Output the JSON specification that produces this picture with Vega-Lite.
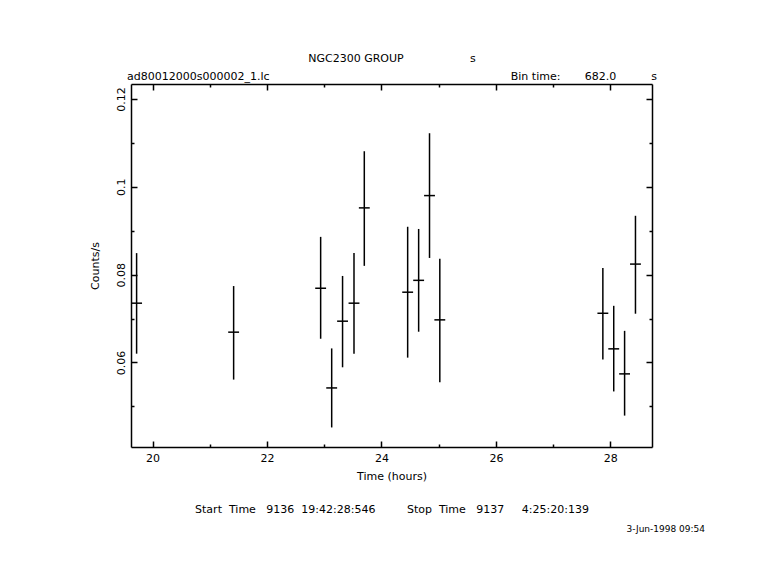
{
  "$schema": "https://vega.github.io/schema/vega-lite/v6.json",
  "width": 521,
  "height": 363,
  "autosize": {"type": "none"},
  "padding": {"left": 131, "top": 84, "right": 129, "bottom": 133},
  "background": "white",
  "config": {
    "view": {"stroke": null},
    "font": "DejaVu Sans",
    "axis": {
      "grid": false,
      "domainColor": "black",
      "domainWidth": 1.5,
      "tickColor": "black",
      "tickWidth": 1.5,
      "labelColor": "black",
      "labelFontSize": 11,
      "labelFont": "DejaVu Sans",
      "titleColor": "black",
      "titleFont": "DejaVu Sans",
      "titleFontSize": 11,
      "titleFontWeight": "normal",
      "labelFlush": false,
      "labelOverlap": false
    }
  },
  "title": {
    "text": "3-Jun-1998 09:54",
    "orient": "bottom",
    "anchor": "end",
    "frame": "group",
    "fontSize": 9,
    "fontWeight": "normal",
    "font": "DejaVu Sans",
    "color": "black",
    "offset": 11,
    "dx": 53
  },
  "data": {
    "values": [
      {"t": 19.72, "tlo": 19.625, "thi": 19.815, "rate": 0.0735, "lo": 0.0620, "hi": 0.0849},
      {"t": 21.416, "tlo": 21.321, "thi": 21.511, "rate": 0.0669, "lo": 0.0561, "hi": 0.0774},
      {"t": 22.937, "tlo": 22.842, "thi": 23.032, "rate": 0.0769, "lo": 0.0654, "hi": 0.0886},
      {"t": 23.13, "tlo": 23.035, "thi": 23.225, "rate": 0.0542, "lo": 0.0452, "hi": 0.0632},
      {"t": 23.32, "tlo": 23.225, "thi": 23.415, "rate": 0.0694, "lo": 0.0589, "hi": 0.0797},
      {"t": 23.52, "tlo": 23.425, "thi": 23.615, "rate": 0.0735, "lo": 0.0620, "hi": 0.0849},
      {"t": 23.70, "tlo": 23.605, "thi": 23.795, "rate": 0.0952, "lo": 0.0820, "hi": 0.1081},
      {"t": 24.458, "tlo": 24.363, "thi": 24.553, "rate": 0.0760, "lo": 0.0611, "hi": 0.0909},
      {"t": 24.65, "tlo": 24.555, "thi": 24.745, "rate": 0.0787, "lo": 0.0670, "hi": 0.0904},
      {"t": 24.84, "tlo": 24.745, "thi": 24.935, "rate": 0.0980, "lo": 0.0838, "hi": 0.1122},
      {"t": 25.02, "tlo": 24.925, "thi": 25.115, "rate": 0.0697, "lo": 0.0555, "hi": 0.0836},
      {"t": 27.87, "tlo": 27.775, "thi": 27.965, "rate": 0.0712, "lo": 0.0607, "hi": 0.0815},
      {"t": 28.06, "tlo": 27.965, "thi": 28.155, "rate": 0.0631, "lo": 0.0534, "hi": 0.0729},
      {"t": 28.25, "tlo": 28.155, "thi": 28.345, "rate": 0.0574, "lo": 0.0479, "hi": 0.0672},
      {"t": 28.44, "tlo": 28.345, "thi": 28.535, "rate": 0.0824, "lo": 0.0711, "hi": 0.0934}
    ]
  },
  "layer": [
    {
      "mark": {"type": "rule", "color": "black", "strokeWidth": 1.5},
      "encoding": {
        "x": {
          "field": "t",
          "type": "quantitative",
          "scale": {"domain": [19.622, 28.729], "nice": false, "zero": false},
          "axis": {
            "orient": "bottom",
            "values": [20, 21, 22, 23, 24, 25, 26, 27, 28],
            "format": "~g",
            "labelExpr": "datum.value % 2 === 0 ? datum.label : ''",
            "tickSize": {"condition": {"test": "datum.value % 2 === 0", "value": -6}, "value": -3},
            "labelPadding": 20,
            "labelBaseline": "alphabetic",
            "labelAlign": "center",
            "title": ["Time (hours)", "Start\u00a0\u00a0Time\u00a0\u00a0\u00a09136\u00a0\u00a019:42:28:546\u00a0\u00a0\u00a0\u00a0\u00a0\u00a0\u00a0\u00a0\u00a0Stop\u00a0\u00a0Time\u00a0\u00a0\u00a09137\u00a0\u00a0\u00a0\u00a0\u00a04:25:20:139"],
            "titleLineHeight": 33,
            "titlePadding": 4
          }
        },
        "y": {
          "field": "lo",
          "type": "quantitative",
          "scale": {"domain": [0.04075, 0.12341], "nice": false, "zero": false},
          "axis": {
            "orient": "left",
            "values": [0.05, 0.06, 0.07, 0.08, 0.09, 0.1, 0.11, 0.12],
            "format": "~g",
            "labelExpr": "round(datum.value * 100) % 2 === 0 ? datum.label : ''",
            "tickSize": {"condition": {"test": "round(datum.value * 100) % 2 === 0", "value": -6}, "value": -3},
            "labelAngle": -90,
            "labelAlign": "center",
            "labelBaseline": "alphabetic",
            "labelPadding": 12.5,
            "title": "Counts/s",
            "titlePadding": 12
          }
        },
        "y2": {"field": "hi"}
      }
    },
    {
      "mark": {"type": "rule", "color": "black", "strokeWidth": 1.5},
      "encoding": {
        "x": {
          "field": "tlo",
          "type": "quantitative",
          "axis": {
            "orient": "top",
            "values": [20, 21, 22, 23, 24, 25, 26, 27, 28],
            "labels": false,
            "tickSize": {"condition": {"test": "datum.value % 2 === 0", "value": -6}, "value": -3},
            "title": ["NGC2300 GROUP\u00a0\u00a0\u00a0\u00a0\u00a0\u00a0\u00a0\u00a0\u00a0\u00a0\u00a0\u00a0\u00a0\u00a0\u00a0\u00a0\u00a0\u00a0\u00a0s", "ad80012000s000002_1.lc\u00a0\u00a0\u00a0\u00a0\u00a0\u00a0\u00a0\u00a0\u00a0\u00a0\u00a0\u00a0\u00a0\u00a0\u00a0\u00a0\u00a0\u00a0\u00a0\u00a0\u00a0\u00a0\u00a0\u00a0\u00a0\u00a0\u00a0\u00a0\u00a0\u00a0\u00a0\u00a0\u00a0\u00a0\u00a0\u00a0\u00a0\u00a0\u00a0\u00a0\u00a0\u00a0\u00a0\u00a0\u00a0\u00a0\u00a0\u00a0\u00a0\u00a0\u00a0\u00a0\u00a0\u00a0\u00a0\u00a0\u00a0\u00a0\u00a0\u00a0\u00a0\u00a0\u00a0\u00a0\u00a0\u00a0\u00a0\u00a0\u00a0Bin time:\u00a0\u00a0\u00a0\u00a0\u00a0\u00a0\u00a0682.0\u00a0\u00a0\u00a0\u00a0\u00a0\u00a0\u00a0\u00a0\u00a0\u00a0s"],
            "titleLineHeight": 18,
            "titlePadding": 2
          }
        },
        "x2": {"field": "thi"},
        "y": {
          "field": "rate",
          "type": "quantitative",
          "axis": {
            "orient": "right",
            "values": [0.05, 0.06, 0.07, 0.08, 0.09, 0.1, 0.11, 0.12],
            "labels": false,
            "tickSize": {"condition": {"test": "round(datum.value * 100) % 2 === 0", "value": -6}, "value": -3},
            "title": null
          }
        }
      }
    }
  ],
  "resolve": {"axis": {"x": "independent", "y": "independent"}}
}
